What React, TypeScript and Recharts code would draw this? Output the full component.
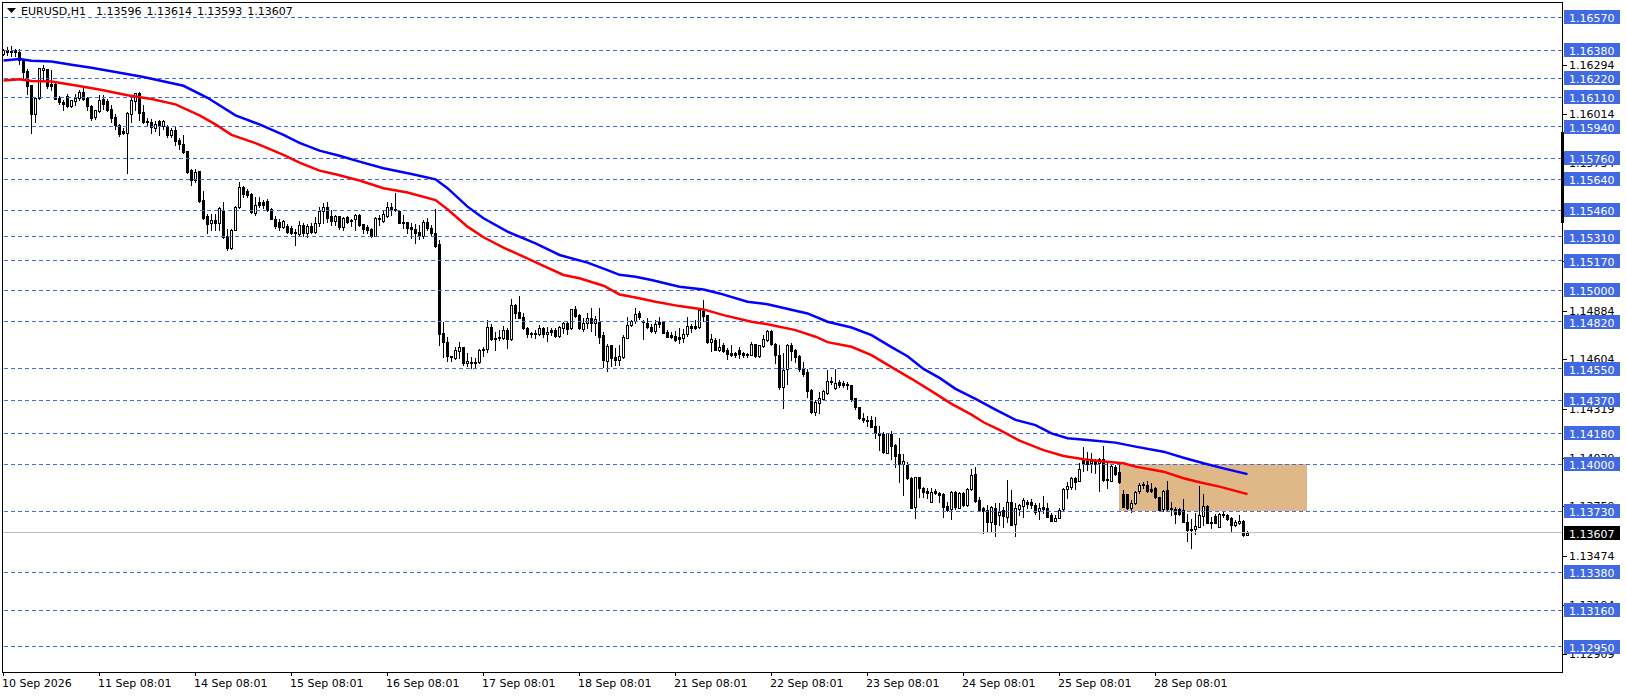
import { Bar, ComposedChart, Line, ReferenceArea, ReferenceLine, XAxis, YAxis } from "recharts";

// prices are kept in points (1.13607 -> 113607)
const opens = [
  116361,116380,116377,116380,116371,116323,116262,116179,116012,116106,
  116269,116271,116189,116189,116106,116083,116118,116058,116089,116106,
  116141,116106,116062,115997,116032,116101,116089,116043,115997,115949,
  115915,115905,116016,116089,116137,116024,115974,115966,115934,115974,
  115943,115943,115892,115920,115867,115844,115800,115690,115633,115685,
  115522,115426,115387,115403,115387,115464,115311,115246,115345,115479,
  115595,115570,115552,115445,115506,115510,115512,115466,115412,115393,
  115364,115368,115359,115336,115326,
  115377,115333,115371,115336,115386,115457,115478,115428,115402,115428,
  115363,115421,115405,115411,115434,115380,115363,115352,115315,115409,
  115402,115428,115478,115467,115459,115394,115392,115363,115352,115334,
  115313,115394,115358,115329,115265,114754,114706,114625,114610,114654,
  114673,114581,114587,114589,114587,114658,114662,114792,114725,114731,
  114729,114773,114723,114917,114874,114846,114782,114754,114750,114748,
  114784,114748,114771,114773,114738,114786,114811,114782,114892,114859,
  114779,114811,114840,114811,114821,
  114743,114596,114686,114615,114599,114619,114728,114799,114826,114868,
  114824,114814,114789,114766,114818,114820,114762,114743,114737,114730,
  114728,114747,114795,114795,114791,114883,114858,114701,114714,114657,
  114686,114655,114638,114638,114655,114638,114636,114630,114690,114622,
  114680,114714,114766,114691,114628,114446,114546,114684,114657,114622,
  114555,114530,114427,114300,114354,114375,114412,114473,114440,114473,
  114469,114461,114456,114379,114329,114264,114254,114254,114218,114182,
  114176,114066,114176,114111,114059,
  114000,113996,113920,113753,113925,113862,113847,113785,113849,113833,
  113828,113760,113741,113843,113751,113833,113764,113856,113944,113795,
  113747,113737,113670,113747,113709,113737,113699,113785,113657,113741,
  113760,113782,113785,113768,113732,113753,113747,113709,113676,113693,
  113741,113856,113868,113920,113906,114025,114021,114006,114021,114006,
  114029,113914,113906,113983,113958,113828,113828,113751,113776,113845,
  113879,113881,113858,113862,113810,113741,113852,113747,113741,113741,
  113737,113670,113630,113626,113642,113705,113760,113668,113705,113642,
  113707,113709,113691,113649,113661,113676,113596,
];

const highs = [
  116390,116400,116404,116390,116390,116333,116275,116179,116112,116279,
  116294,116275,116265,116193,116116,116097,116131,116097,116127,116150,
  116166,116112,116064,116039,116122,116125,116101,116064,116012,115955,
  115936,116024,116108,116137,116141,116064,115993,115987,115974,115978,
  115978,115949,115936,115940,115878,115892,115800,115696,115700,115685,
  115571,115441,115441,115441,115479,115506,115355,115355,115483,115621,
  115602,115585,115560,115537,115537,115522,115525,115472,115426,115412,
  115407,115380,115368,115355,115399,
  115386,115382,115390,115425,115478,115505,115509,115463,115434,115430,
  115425,115428,115409,115440,115440,115382,115377,115358,115421,115434,
  115459,115511,115505,115563,115463,115434,115396,115390,115382,115377,
  115405,115415,115377,115467,115290,114821,114735,114625,114677,114706,
  114677,114639,114619,114610,114664,114677,114830,114807,114763,114773,
  114798,114782,114949,114922,114968,114873,114792,114763,114773,114802,
  114792,114792,114782,114782,114796,114821,114821,114896,114911,114865,
  114840,114869,114897,114853,114897,
  114759,114691,114686,114667,114686,114743,114845,114829,114897,114881,
  114833,114839,114810,114833,114849,114824,114772,114762,114768,114782,
  114776,114849,114810,114829,114897,114948,114858,114747,114728,114718,
  114695,114667,114686,114647,114672,114647,114642,114701,114691,114688,
  114743,114772,114772,114695,114686,114643,114691,114695,114661,114628,
  114590,114546,114431,114369,114417,114427,114542,114500,114548,114484,
  114479,114475,114456,114379,114331,114293,114279,114279,114274,114220,
  114187,114182,114191,114116,114149,
  114058,114012,113929,113929,113929,113872,113862,113862,113856,113843,
  113833,113785,113847,113849,113843,113843,113862,113971,113987,113810,
  113757,113766,113760,113776,113776,113753,113910,113852,113776,113772,
  113804,113795,113799,113776,113776,113818,113776,113718,113709,113747,
  113862,113900,113929,113929,114006,114098,114073,114063,114029,114035,
  114105,114006,113996,113996,113996,113852,113829,113795,113849,113895,
  113900,113904,113891,113868,113814,113852,113904,113785,113753,113747,
  113799,113712,113686,113718,113875,113829,113766,113695,113714,113718,
  113734,113712,113699,113680,113709,113680,113614,
];

const lows = [
  116352,116352,116346,116346,116304,116218,116131,115905,115968,116103,
  116208,116166,116150,116101,116074,116035,116055,116055,116064,116093,
  116093,116035,115982,115987,116026,116045,116032,115968,115930,115886,
  115897,115675,115966,116035,115978,115963,115943,115905,115917,115892,
  115930,115882,115882,115834,115815,115790,115675,115604,115623,115508,
  115412,115330,115345,115345,115345,115303,115230,115240,115345,115476,
  115537,115537,115445,115432,115479,115476,115456,115410,115361,115345,
  115361,115330,115326,115259,115317,
  115313,115306,115329,115333,115371,115390,115396,115377,115377,115352,
  115348,115386,115371,115348,115371,115329,115329,115310,115313,115377,
  115396,115425,115434,115457,115386,115358,115333,115300,115271,115294,
  115300,115348,115319,115252,114688,114616,114596,114596,114604,114610,
  114572,114566,114552,114562,114581,114623,114648,114715,114658,114715,
  114719,114671,114715,114840,114840,114779,114731,114731,114725,114742,
  114735,114712,114744,114735,114735,114754,114750,114779,114850,114779,
  114767,114782,114767,114744,114700,
  114557,114538,114565,114571,114571,114613,114724,114795,114814,114835,
  114720,114787,114762,114757,114791,114753,114730,114724,114709,114699,
  114705,114739,114762,114778,114782,114824,114699,114651,114655,114651,
  114647,114605,114622,114619,114613,114619,114615,114626,114619,114619,
  114676,114709,114688,114584,114436,114325,114461,114599,114590,114536,
  114507,114385,114297,114283,114297,114369,114404,114461,114436,114446,
  114446,114431,114366,114321,114260,114243,114220,114212,114153,114082,
  114066,114063,114030,113986,113900,
  113824,113914,113747,113693,113810,113810,113804,113782,113829,113785,
  113699,113734,113684,113741,113747,113760,113760,113852,113785,113734,
  113607,113613,113613,113588,113651,113638,113670,113651,113588,113709,
  113699,113747,113747,113714,113686,113718,113695,113674,113674,113690,
  113737,113804,113858,113856,113902,113964,113967,113958,113952,113849,
  113906,113862,113902,113939,113895,113753,113741,113728,113772,113833,
  113862,113843,113843,113804,113734,113734,113737,113709,113661,113709,
  113666,113558,113518,113599,113638,113651,113661,113632,113661,113638,
  113695,113680,113617,113645,113657,113588,113593,
];

const closes = [
  116380,116371,116371,116371,116327,116256,116173,116012,116108,116279,
  116279,116173,116173,116103,116083,116074,116058,116093,116106,116141,
  116103,116058,115993,116035,116093,116074,116039,115993,115949,115901,
  115905,116020,116093,116137,116022,115966,115966,115940,115955,115949,
  115974,115892,115920,115859,115844,115794,115679,115637,115683,115512,
  115418,115380,115403,115387,115472,115307,115246,115349,115479,115595,
  115556,115547,115451,115489,115489,115489,115460,115412,115370,115364,
  115399,115336,115330,115330,115374,
  115329,115371,115334,115386,115457,115478,115415,115402,115428,115363,
  115419,115396,115398,115434,115377,115354,115348,115313,115417,115415,
  115440,115478,115463,115461,115390,115390,115358,115352,115333,115313,
  115394,115358,115329,115256,114750,114706,114625,114619,114658,114673,
  114581,114593,114581,114581,114658,114664,114788,114721,114719,114725,
  114771,114719,114915,114873,114844,114782,114748,114748,114756,114782,
  114752,114759,114763,114738,114788,114811,114781,114892,114853,114782,
  114813,114840,114811,114834,114735,
  114599,114680,114613,114599,114622,114730,114801,114826,114864,114847,
  114816,114789,114766,114810,114808,114757,114734,114730,114714,114722,
  114747,114795,114787,114785,114887,114854,114705,114720,114659,114676,
  114651,114636,114630,114630,114634,114628,114632,114690,114622,114684,
  114718,114766,114691,114626,114444,114542,114684,114651,114617,114551,
  114517,114423,114300,114358,114379,114421,114482,114479,114465,114458,
  114458,114454,114373,114331,114268,114254,114251,114214,114182,114170,
  114070,114178,114107,114049,114000,
  114021,113920,113751,113925,113866,113839,113833,113841,113833,113822,
  113757,113737,113843,113753,113837,113766,113856,113939,113791,113737,
  113734,113670,113753,113657,113728,113703,113783,113651,113747,113764,
  113795,113774,113766,113728,113751,113745,113699,113676,113691,113737,
  113858,113875,113920,113900,113971,114000,114002,114021,114000,114029,
  113910,113908,113990,113944,113900,113757,113747,113776,113843,113881,
  113885,113849,113849,113810,113737,113849,113741,113741,113714,113712,
  113670,113622,113622,113645,113709,113760,113665,113665,113665,113712,
  113714,113684,113649,113668,113676,113594,113607,
];

const blueBars = [0,4,7,12,17,22,28,35,45,51,58,64,70,74,79,84,89,95,102,108,111,116,120,126,133,139,146,151,154,158,162,169,175,179,186,191,201,206,212,217,222,226,230,234,238,243,248,253,258,262,266,271,278,283,290,295,300,305,311];
const blueValues = [116323,116331,116321,116317,116298,116281,116256,116227,116177,116108,116007,115955,115895,115849,115804,115775,115741,115703,115670,115639,115588,115482,115415,115338,115271,115204,115160,115117,115090,115079,115060,115021,115006,114983,114935,114921,114868,114820,114787,114743,114674,114622,114549,114497,114434,114377,114315,114256,114226,114178,114150,114140,114125,114102,114073,114038,114006,113977,113944];
const redBars = [0,4,7,12,17,24,31,37,43,49,53,57,63,70,74,79,83,89,95,101,108,111,116,120,125,130,135,140,144,150,154,158,163,169,175,180,187,191,198,203,206,212,217,222,227,232,237,242,245,249,254,260,265,270,275,280,283,290,295,299,304,311];
const redValues = [116208,116214,116204,116202,116183,116156,116122,116101,116070,116007,115955,115895,115847,115780,115735,115689,115668,115632,115588,115563,115520,115467,115367,115306,115246,115195,115141,115089,115070,115027,114977,114960,114935,114910,114891,114858,114820,114806,114772,114734,114703,114676,114628,114559,114492,114421,114348,114286,114242,114198,114136,114082,114048,114029,114017,114006,113987,113958,113920,113897,113872,113829];

const timeLabels = ["10 Sep 2026","11 Sep 08:01","14 Sep 08:01","15 Sep 08:01","16 Sep 08:01","17 Sep 08:01","18 Sep 08:01","21 Sep 08:01","22 Sep 08:01","23 Sep 08:01","24 Sep 08:01","25 Sep 08:01","28 Sep 08:01"];
const timeTicks = [0,24,48,72,96,120,144,168,192,216,240,264,288];

const scaleTicks = [1.16294,1.16014,1.15734,1.15449,1.15169,1.14884,1.14604,1.14319,1.14039,1.13759,1.13474,1.13194,1.12909];
const levels = [1.1657,1.1638,1.1622,1.1611,1.1594,1.1576,1.1564,1.1546,1.1531,1.1517,1.15,1.1482,1.1455,1.1437,1.1418,1.14,1.1373,1.1338,1.1316,1.1295];
const lastPrice = 1.13607;

const PRICE_MAX = 1.16653;
const PRICE_MIN = 1.12806;
const SLOTS = 390;
const FONT = "'DejaVu Sans', sans-serif";
const LEVEL_BLUE = "#4169E1";

const rows = Array.from({ length: SLOTS }, (_, i) => {
  const b = blueBars.indexOf(i);
  const r = redBars.indexOf(i);
  const live = i < opens.length;
  return {
    bar: i,
    open: live ? opens[i] / 1e5 : undefined,
    high: live ? highs[i] / 1e5 : undefined,
    low: live ? lows[i] / 1e5 : undefined,
    close: live ? closes[i] / 1e5 : undefined,
    range: live ? [lows[i] / 1e5, highs[i] / 1e5] : undefined,
    blue: b >= 0 ? blueValues[b] / 1e5 : undefined,
    red: r >= 0 ? redValues[r] / 1e5 : undefined,
  };
});

function Candle(props: any) {
  const { x, y, width, height, payload } = props;
  if (!payload || payload.range == null) return <g />;
  const { open, high, low, close } = payload;
  const top = Math.min(y, y + height);
  const span = Math.abs(height);
  const py = (v: number) => Math.round(top + ((high - v) / (high - low)) * span);
  const cx = x + width / 2;
  const yTop = py(Math.max(open, close));
  const yBot = py(Math.min(open, close));
  return (
    <g shapeRendering="crispEdges">
      <line x1={cx} x2={cx} y1={py(high)} y2={py(low) + 1} stroke="#000" />
      {close >= open ? (
        <rect x={cx - 1} y={yTop + 0.5} width={2} height={Math.max(yBot - yTop, 1)} fill="#fff" stroke="#000" />
      ) : (
        <rect x={cx - 1.5} y={yTop} width={3} height={Math.max(yBot - yTop, 1) + 1} fill="#000" />
      )}
    </g>
  );
}

// the zone starts on a candle's centre, not on the edge of its slot
function Zone(props: any) {
  const { x, y, width, height, fill } = props;
  return <rect x={x + 1.5} y={y} width={width} height={height} fill={fill} shapeRendering="crispEdges" />;
}

function PriceTick(props: any) {
  const { x, payload } = props;
  const value: number = payload.value;
  const y = Math.round(props.y);
  const boxed = levels.includes(value) || value === lastPrice;
  if (!boxed) {
    return (
      <g>
        <line x1={x} x2={x + 5} y1={y + 0.5} y2={y + 0.5} stroke="#000" shapeRendering="crispEdges" />
        <text x={x + 7.5} y={y + 4} fontFamily={FONT} fontSize={11} fill="#000">{value.toFixed(5)}</text>
      </g>
    );
  }
  return (
    <g>
      <rect x={x + 2.5} y={y - 7} width={56} height={14} fill={value === lastPrice ? "#000" : LEVEL_BLUE} />
      <text x={x + 7.5} y={y + 5} fontFamily={FONT} fontSize={11} fill="#fff">{value.toFixed(5)}</text>
    </g>
  );
}

function TimeTick(props: any) {
  const { x, y, payload } = props;
  const label = timeLabels[timeTicks.indexOf(payload.value)];
  return (
    <g>
      <line x1={x} x2={x} y1={y} y2={y + 4} stroke="#000" shapeRendering="crispEdges" />
      <text x={x - 1.5} y={y + 15} fontFamily={FONT} fontSize={11} fill="#000">{label}</text>
    </g>
  );
}

export default function App() {
  return (
    <div style={{ position: "absolute", left: 0, top: 0, width: 1626, height: 696, background: "#fff", overflow: "hidden" }}>
      <ComposedChart
        width={1626}
        height={696}
        data={rows}
        margin={{ top: 3, right: 0, bottom: 0, left: 1.5 }}
        barCategoryGap={0}
        barGap={0}
      >
        <XAxis
          dataKey="bar"
          type="category"
          ticks={timeTicks}
          interval={0}
          height={24}
          axisLine={false}
          tickLine={false}
          tickSize={0}
          tickMargin={0}
          tick={TimeTick}
        />
        <YAxis
          type="number"
          orientation="right"
          domain={[PRICE_MIN, PRICE_MAX]}
          allowDataOverflow
          ticks={[...scaleTicks, ...levels, lastPrice]}
          interval={0}
          width={64.5}
          axisLine={false}
          tickLine={false}
          tickSize={0}
          tickMargin={0}
          tick={PriceTick}
        />
        <ReferenceArea x1={279} x2={325} y1={1.1373} y2={1.14} fill="#DEB887" fillOpacity={1} stroke="none" shape={Zone} />
        {levels.map((v) => (
          <ReferenceLine key={v} y={v} stroke={LEVEL_BLUE} strokeDasharray="4 3" shapeRendering="crispEdges" />
        ))}
        <ReferenceLine y={lastPrice} stroke="#C0C0C0" shapeRendering="crispEdges" />
        <Bar dataKey="range" shape={Candle} isAnimationActive={false} />
        <Line dataKey="blue" stroke="#0000FF" strokeWidth={2.5} dot={false} connectNulls isAnimationActive={false} type="linear" />
        <Line dataKey="red" stroke="#FF0000" strokeWidth={2.5} dot={false} connectNulls isAnimationActive={false} type="linear" />
      </ComposedChart>

      {/* chart frame and the scale's black marker */}
      <div style={{ position: "absolute", left: 2, top: 2, width: 1559, height: 669, border: "1px solid #000", pointerEvents: "none" }} />
      <div style={{ position: "absolute", left: 1561, top: 132, width: 3, height: 91, background: "#000" }} />

      <svg style={{ position: "absolute", left: 7, top: 8 }} width={9} height={6}>
        <polygon points="0,0 9,0 4.5,5" fill="#000" />
      </svg>
      <div style={{ position: "absolute", left: 21, top: 5, fontFamily: FONT, fontSize: 11, lineHeight: "14px", color: "#000", whiteSpace: "pre", wordSpacing: 1.5 }}>
        {"EURUSD,H1  1.13596 1.13614 1.13593 1.13607"}
      </div>
    </div>
  );
}
